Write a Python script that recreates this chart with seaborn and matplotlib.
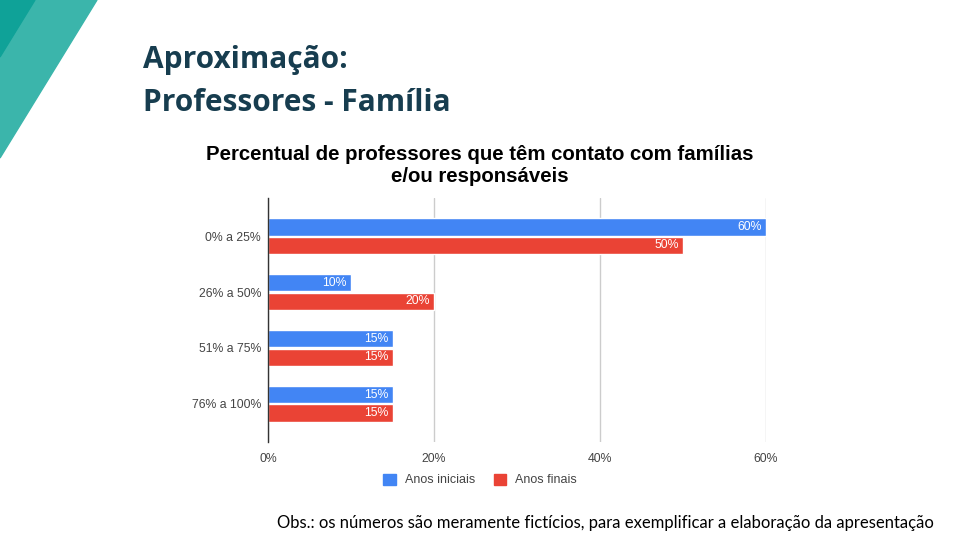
import pandas as pd
import seaborn as sns
import matplotlib.pyplot as plt
from matplotlib.patches import Polygon

# dados do gráfico
faixas = ["0% a 25%", "26% a 50%", "51% a 75%", "76% a 100%"]
anos_iniciais = [60, 10, 15, 15]
anos_finais = [50, 20, 15, 15]
grupos = ["Anos iniciais", "Anos finais"]
xticks = [0, 20, 40, 60]

df = pd.DataFrame({
    "Faixa": faixas * 2,
    "Percentual": anos_iniciais + anos_finais,
    "Grupo": [grupos[0]] * len(faixas) + [grupos[1]] * len(faixas),
})

sns.set_theme(style="white")
plt.rcParams["font.family"] = ["Liberation Sans", "DejaVu Sans"]

fig = plt.figure(figsize=(9.6, 5.4), dpi=100)

# faixas decorativas no canto
fig.patches.append(Polygon([(0, 1), (97 / 960, 1), (0, 1 - 158 / 540)], closed=True,
                           transform=fig.transFigure, color="#3BB5AB", zorder=0))
fig.patches.append(Polygon([(0, 1), (35 / 960, 1), (0, 1 - 57 / 540)], closed=True,
                           transform=fig.transFigure, color="#0FA298", zorder=1))

# título do slide
for txt, ypx in [("Aproximação:", 60), ("Professores - Família", 103)]:
    fig.text(143 / 960, 1 - ypx / 540, txt, family=["Open Sans", "DejaVu Sans"],
             fontsize=21.5, fontweight="bold", color="#173D4F", va="center", ha="left")

# título do gráfico
for txt, ypx in [("Percentual de professores que têm contato com famílias", 155),
                 ("e/ou responsáveis", 176)]:
    fig.text(480 / 960, 1 - ypx / 540, txt, fontsize=14.7, fontweight="bold",
             color="#000000", ha="center", va="center")

ax = fig.add_axes([268 / 960, 98 / 540, 498 / 960, 244 / 540])
sns.barplot(data=df, y="Faixa", x="Percentual", hue="Grupo", orient="h",
            palette=["#4285F4", "#EA4335"], saturation=1, width=0.66, gap=0.06,
            ax=ax, legend=False)

for cont in ax.containers:
    for p in cont.patches:
        ax.annotate(f"{p.get_width():.0f}%", (p.get_width(), p.get_y() + p.get_height() / 2),
                    xytext=(-3, 0), textcoords="offset points", ha="right", va="center",
                    color="white", fontsize=8.8)

ax.set_xlim(0, 60)
ax.set_ylim(3.68, -0.68)
ax.set_xticks(xticks)
ax.set_xticklabels([f"{v}%" for v in xticks])
ax.xaxis.grid(True, color="#CCCCCC", linewidth=1)
ax.set_axisbelow(True)
ax.set_xlabel("")
ax.set_ylabel("")
for s in ["top", "right", "bottom"]:
    ax.spines[s].set_visible(False)
ax.spines["left"].set_color("#333333")
ax.spines["left"].set_linewidth(1)
ax.tick_params(axis="both", length=0, labelsize=8.8, labelcolor="#444444")
ax.tick_params(axis="x", pad=8)
ax.tick_params(axis="y", pad=5)

# legenda
handles = [plt.Rectangle((0, 0), 1, 1, color=c) for c in ["#4285F4", "#EA4335"]]
fig.legend(handles, grupos, loc="center", bbox_to_anchor=(480 / 960, 1 - 480 / 540), ncol=2,
           frameon=False, handlelength=1.0, handleheight=1.0, columnspacing=1.5, handletextpad=0.7,
           fontsize=9, labelcolor="#444444")

fig.text(605 / 960, 1 - 523 / 540,
         "Obs.: os números são meramente fictícios, para exemplificar a elaboração da apresentação",
         family=["Lato", "DejaVu Sans"], fontsize=12, color="#000000", ha="center", va="center")

fig.savefig("out.png", dpi=100)
